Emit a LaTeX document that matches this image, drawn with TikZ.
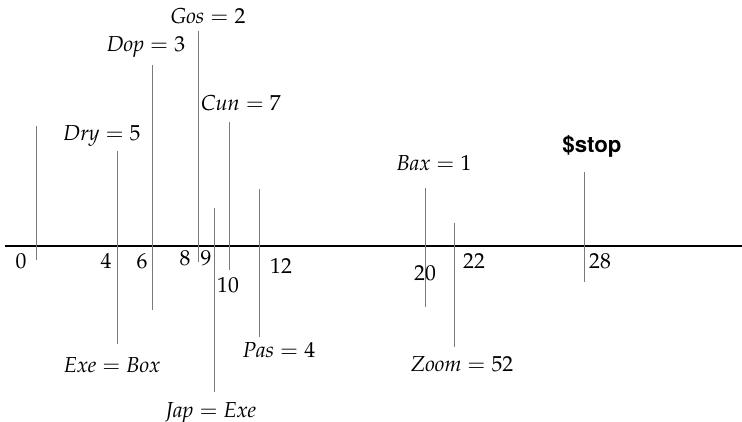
\documentclass[tikz,border=0pt]{standalone}
\usepackage[no-math]{fontspec}
\usepackage{mathpazo}
\newfontfamily\herosfont{TeX Gyre Heros}
\usepackage{tikz}
\usetikzlibrary{positioning}
\definecolor{inkgray}{HTML}{7A7A7A}

\begin{document}
\begin{tikzpicture}[x=0.03cm, y=-0.03cm,
    marker/.style={inkgray, line width=0.7pt},
    axisline/.style={black, line width=1.5pt},
    lbl/.style={anchor=base, inner sep=0pt, font=\fontsize{18.5}{22}\selectfont},
    num/.style={anchor=base, inner sep=0pt, font=\fontsize{18.5}{22}\selectfont}]
    \useasboundingbox (0,0) rectangle (742,422);

    % Time axis
    \coordinate (axL) at (5,246);
    \coordinate (axR) at (742,246);
    \draw[axisline] (axL) -- (axR);

    % Event markers
    \foreach \n/\x/\t/\b in {m0/36/126/260, m4/117/151/344, m6/152/65/310,
        m8/198/31/262, m9/214/208/392, m10/229/122/270, m12/259/189/337,
        m20/425/188/307, m22/454/223/347, m28/584/172/282} {
        \coordinate (\n t) at (\x,\t);
        \coordinate (\n b) at (\x,\b);
        \draw[marker] (\n t) -- (\n b);
    }

    % Times
    \node[num] (t0)  at (21,268)  {$0$};
    \node[num] (t4)  at (106,268) {$4$};
    \node[num] (t6)  at (142,268) {$6$};
    \node[num] (t8)  at (185,265) {$8$};
    \node[num] (t9)  at (206,265) {$9$};
    \node[num] (t10) at (228,292) {$10$};
    \node[num] (t12) at (281,273) {$12$};
    \node[num] (t20) at (425,280) {$20$};
    \node[num] (t22) at (474,268) {$22$};
    \node[num] (t28) at (600,268) {$28$};

    % Assignments above
    \node[lbl] (gos) at (208,24)  {$\mathit{Gos} = 2$};
    \node[lbl] (dop) at (146,52)  {$\mathit{Dop} = 3$};
    \node[lbl] (cun) at (241,111) {$\mathit{Cun} = 7$};
    \node[lbl] (dry) at (102,140) {$\mathit{Dry} = 5$};
    \node[lbl] (bax) at (434,171) {$\mathit{Bax} = 1$};
    \node[lbl, font=\fontsize{19}{22}\herosfont\bfseries] (stop) at (592,153) {\$stop};

    % Assignments below
    \node[lbl] (exe) at (112,372) {$\mathit{Exe} = \mathit{Box}$};
    \node[lbl] (pas) at (279,357) {$\mathit{Pas} = 4$};
    \node[lbl] (jap) at (211,417) {$\mathit{Jap} = \mathit{Exe}$};
    \node[lbl] (zoom) at (462,371) {$\mathit{Zoom} = 52$};
\end{tikzpicture}
\end{document}
